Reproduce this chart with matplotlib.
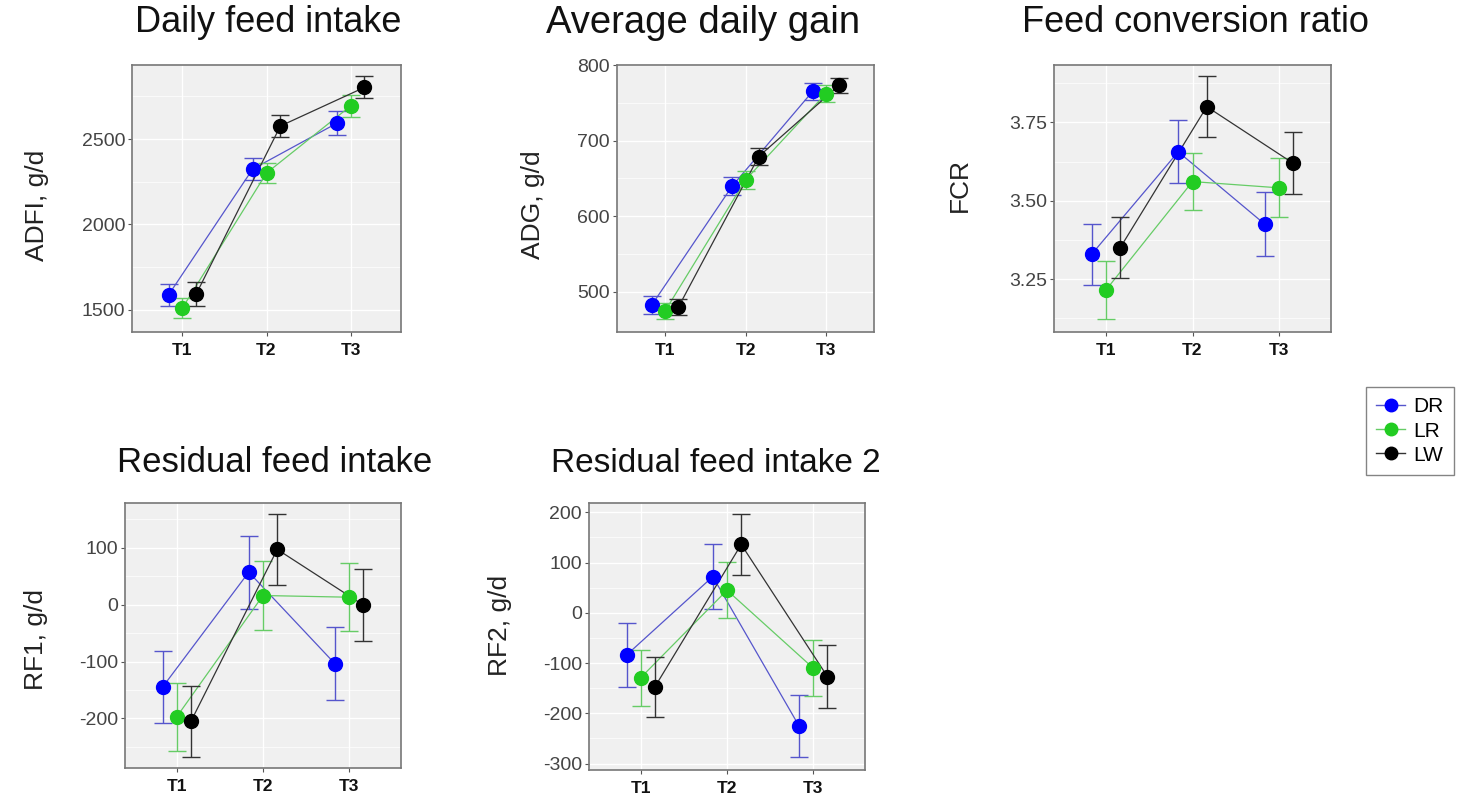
import matplotlib
matplotlib.use("Agg")
import matplotlib.pyplot as plt
import numpy as np
from matplotlib.lines import Line2D

plt.rcParams['font.family'] = ['Liberation Sans', 'DejaVu Sans']

periods = ["T1", "T2", "T3"]
breeds = ["DR", "LR", "LW"]
colors = {"DR": "#0000FF", "LR": "#22CC22", "LW": "#000000"}
line_colors = {"DR": "#5555CC", "LR": "#66CC66", "LW": "#333333"}

# Daily feed intake (ADFI, g/d)
adfi_mean = {"DR": [1588, 2324, 2592], "LR": [1512, 2301, 2693], "LW": [1594, 2576, 2802]}
adfi_se = {"DR": [64, 64, 70], "LR": [58, 60, 62], "LW": [68, 64, 64]}
# Average daily gain (ADG, g/d)
adg_mean = {"DR": [483, 640, 765], "LR": [475, 648, 762], "LW": [480, 679, 773]}
adg_se = {"DR": [12, 12, 11], "LR": [11, 12, 11], "LW": [11, 11, 10]}
# Feed conversion ratio
fcr_mean = {"DR": [3.329, 3.656, 3.425], "LR": [3.215, 3.561, 3.541], "LW": [3.350, 3.800, 3.619]}
fcr_se = {"DR": [0.097, 0.100, 0.102], "LR": [0.094, 0.090, 0.094], "LW": [0.098, 0.098, 0.099]}
# Residual feed intake (RF1, g/d)
rf1_mean = {"DR": [-145, 57, -104], "LR": [-197, 16, 13], "LW": [-205, 97, -1]}
rf1_se = {"DR": [63, 64, 64], "LR": [60, 60, 60], "LW": [62, 63, 63]}
# Residual feed intake 2 (RF2, g/d)
rf2_mean = {"DR": [-84, 72, -225], "LR": [-129, 45, -110], "LW": [-147, 136, -127]}
rf2_se = {"DR": [63, 64, 61], "LR": [56, 56, 55], "LW": [60, 60, 62]}

W, H = 1467, 799
fig = plt.figure(figsize=(W / 100, H / 100), dpi=100)


def add_ax(l, r, t, b):
    return fig.add_axes([l / W, 1 - b / H, (r - l) / W, (b - t) / H])


panels = [
    dict(box=(132, 401, 65, 332), mean=adfi_mean, se=adfi_se, ylim=(1371, 2933),
         yticks=[1500, 2000, 2500], ytl=["1500", "2000", "2500"], minor=[1750, 2250, 2750],
         title="Daily feed intake", tpos=(268, 23), tsize=26, ylabel="ADFI, g/d", lpos=(37, 205)),
    dict(box=(617, 874, 65, 332), mean=adg_mean, se=adg_se, ylim=(447, 800),
         yticks=[500, 600, 700, 800], ytl=["500", "600", "700", "800"], minor=[550, 650, 750],
         title="Average daily gain", tpos=(703, 23), tsize=27.5, ylabel="ADG, g/d", lpos=(533, 205)),
    dict(box=(1054, 1331, 65, 332), mean=fcr_mean, se=fcr_se, ylim=(3.081, 3.933),
         yticks=[3.25, 3.50, 3.75], ytl=["3.25", "3.50", "3.75"], minor=[3.125, 3.375, 3.625, 3.875],
         title="Feed conversion ratio", tpos=(1196, 23), tsize=26, ylabel="FCR", lpos=(960, 185)),
    dict(box=(125, 401, 503, 768), mean=rf1_mean, se=rf1_se, ylim=(-287, 178.5),
         yticks=[-200, -100, 0, 100], ytl=["-200", "-100", "0", "100"], minor=[-250, -150, -50, 50, 150],
         title="Residual feed intake", tpos=(275, 463), tsize=25, ylabel="RF1, g/d", lpos=(36, 640)),
    dict(box=(589, 865, 503, 770), mean=rf2_mean, se=rf2_se, ylim=(-312.7, 218.5),
         yticks=[-300, -200, -100, 0, 100, 200], ytl=["-300", "-200", "-100", "0", "100", "200"],
         minor=[-250, -150, -50, 50, 150],
         title="Residual feed intake 2", tpos=(716, 463), tsize=24, ylabel="RF2, g/d", lpos=(500, 625)),
]

offsets = {"DR": -0.165, "LR": 0.0, "LW": 0.165}
xbase = np.arange(1, len(periods) + 1)

for p in panels:
    ax = add_ax(*p["box"])
    ax.set_facecolor("#F0F0F0")
    for y in p["yticks"]:
        ax.axhline(y, color="white", lw=1.0, zorder=0)
    for y in p["minor"]:
        ax.axhline(y, color="white", lw=0.5, zorder=0)
    for x in xbase:
        ax.axvline(x, color="white", lw=1.0, zorder=0)
    for b in breeds:
        xs = xbase + offsets[b]
        ax.plot(xs, p["mean"][b], color=line_colors[b], lw=0.9, zorder=2)
        ax.errorbar(xs, p["mean"][b], yerr=p["se"][b], fmt="none", ecolor=line_colors[b],
                    elinewidth=1.0, capsize=6.5, capthick=1.0, zorder=2)
        ax.plot(xs, p["mean"][b], "o", color=colors[b], ms=10, mec=colors[b], zorder=3)
    ax.set_xlim(0.4, 3.6)
    ax.set_ylim(*p["ylim"])
    ax.set_xticks(xbase)
    ax.set_xticklabels(periods, fontsize=12.5, fontweight="bold", color="#111111")
    ax.set_yticks(p["yticks"])
    ax.set_yticklabels(p["ytl"], fontsize=14, color="#444444")
    ax.tick_params(axis="both", length=3, width=0.8, color="#555555", pad=2)
    ax.tick_params(axis="x", pad=5)
    for s in ax.spines.values():
        s.set_color("#777777")
        s.set_linewidth(1.2)
    fig.text(p["tpos"][0] / W, 1 - p["tpos"][1] / H, p["title"], fontsize=p["tsize"],
             ha="center", va="center", color="#111111")
    fig.text(p["lpos"][0] / W, 1 - p["lpos"][1] / H, p["ylabel"], fontsize=19, rotation=90,
             ha="center", va="center", color="#222222")

handles = [Line2D([0], [0], color=line_colors[b], lw=1.0, marker="o", ms=9,
                  mfc=colors[b], mec=colors[b]) for b in breeds]
leg = fig.legend(handles, breeds, loc="center", bbox_to_anchor=(1410 / W, 1 - 431 / H),
                 fontsize=15, frameon=True, fancybox=False, handlelength=1.4,
                 handletextpad=0.4, borderpad=0.5, labelspacing=0.25)
leg.get_frame().set_edgecolor("#666666")
leg.get_frame().set_linewidth(1.0)

fig.savefig("out.png", dpi=100)
